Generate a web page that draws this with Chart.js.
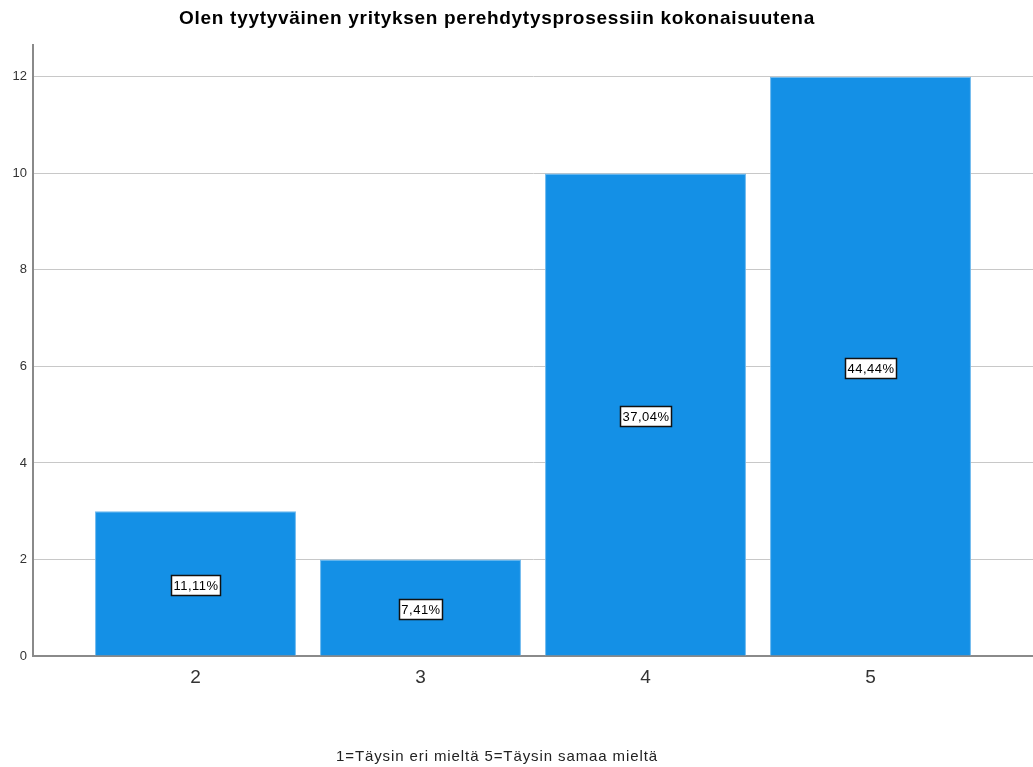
<!DOCTYPE html>
<html>
<head>
<meta charset="utf-8">
<script src="https://cdn.jsdelivr.net/npm/chart.js@4.4.1/dist/chart.umd.min.js"></script>
<style>
  html, body { margin: 0; padding: 0; background: #ffffff; }
  #wrap { width: 1033px; height: 767px; position: relative; }
</style>
</head>
<body>
<div id="wrap"><canvas id="c" width="1033" height="767"></canvas></div>
<script>
// Response categories (Likert scale values) and respondent counts
const categories = ['2', '3', '4', '5'];
const counts = [3, 2, 10, 12];
const yTicks = [0, 2, 4, 6, 8, 10, 12];

const chartTitle = 'Olen tyytyväinen yrityksen perehdytysprosessiin kokonaisuutena';
const xTitle = '1=Täysin eri mieltä 5=Täysin samaa mieltä';

const total = counts.reduce((a, b) => a + b, 0);
const percentLabels = counts.map(v => (v / total * 100).toFixed(2).replace('.', ',') + '%');

const FONT = '"Liberation Sans", Arial, sans-serif';

// Percentage boxes centred in each bar, plus the chart and axis titles
const annotate = {
  id: 'annotate',
  afterDatasetsDraw(chart) {
    const ctx = chart.ctx;
    const meta = chart.getDatasetMeta(0);
    ctx.save();
    ctx.font = '13px ' + FONT;
    ctx.letterSpacing = '0.5px';
    ctx.textAlign = 'center';
    ctx.textBaseline = 'middle';
    meta.data.forEach((bar, i) => {
      const txt = percentLabels[i];
      const cx = bar.x;
      const cy = (bar.y + bar.base) / 2 + 2;
      const w = Math.round(ctx.measureText(txt).width) + 4;
      const h = 20;
      const x0 = Math.round(cx - w / 2) + 0.5;
      const y0 = Math.round(cy - h / 2) + 0.5;
      ctx.fillStyle = '#ffffff';
      ctx.fillRect(x0, y0, w, h);
      ctx.strokeStyle = '#111111';
      ctx.lineWidth = 1.5;
      ctx.strokeRect(x0, y0, w, h);
      ctx.fillStyle = '#000000';
      ctx.fillText(txt, cx + 0.5, cy + 1);
    });
    ctx.restore();
  },
  afterDraw(chart) {
    const ctx = chart.ctx;
    ctx.save();
    ctx.textAlign = 'center';
    ctx.textBaseline = 'middle';
    ctx.fillStyle = '#000000';
    ctx.font = 'bold 19px ' + FONT;
    ctx.letterSpacing = '0.7px';
    ctx.fillText(chartTitle, 497, 19);
    ctx.fillStyle = '#222222';
    ctx.font = '15px ' + FONT;
    ctx.letterSpacing = '0.9px';
    ctx.fillText(xTitle, 497, 757);
    ctx.restore();
  }
};

new Chart(document.getElementById('c'), {
  type: 'bar',
  data: {
    datasets: [{
      data: counts.map((v, i) => ({ x: i, y: v })),
      backgroundColor: '#1490e6',
      borderColor: '#6cb8ee',
      borderWidth: 1,
      borderSkipped: 'bottom',
      categoryPercentage: 1,
      barPercentage: 0.893
    }]
  },
  options: {
    responsive: false,
    animation: false,
    devicePixelRatio: 1,
    layout: { padding: { top: 45, left: 0, right: 0, bottom: 0 } },
    plugins: {
      legend: { display: false },
      title: { display: false },
      tooltip: { enabled: false }
    },
    scales: {
      x: {
        type: 'linear',
        offset: false,
        min: -0.7222,
        max: 3.7222,
        afterBuildTicks(scale) {
          scale.ticks = categories.map((c, i) => ({ value: i }));
        },
        afterFit(scale) { scale.height = 111; },
        grid: { display: false, drawTicks: false },
        border: { display: true, color: '#8a8a8a', width: 2 },
        ticks: {
          callback: v => categories[v],
          color: '#333333',
          font: { family: FONT, size: 19 },
          padding: 10,
          maxRotation: 0,
          autoSkip: false
        }
      },
      y: {
        min: 0,
        max: 12.66,
        afterBuildTicks(scale) {
          scale.ticks = yTicks.map(v => ({ value: v }));
        },
        afterFit(scale) { scale.width = 33; },
        grid: { color: '#c8c8c8', lineWidth: 1, drawTicks: false },
        border: { display: true, color: '#8a8a8a', width: 2 },
        ticks: {
          color: '#333333',
          font: { family: FONT, size: 13 },
          padding: 6
        }
      }
    }
  },
  plugins: [annotate]
});
</script>
</body>
</html>
